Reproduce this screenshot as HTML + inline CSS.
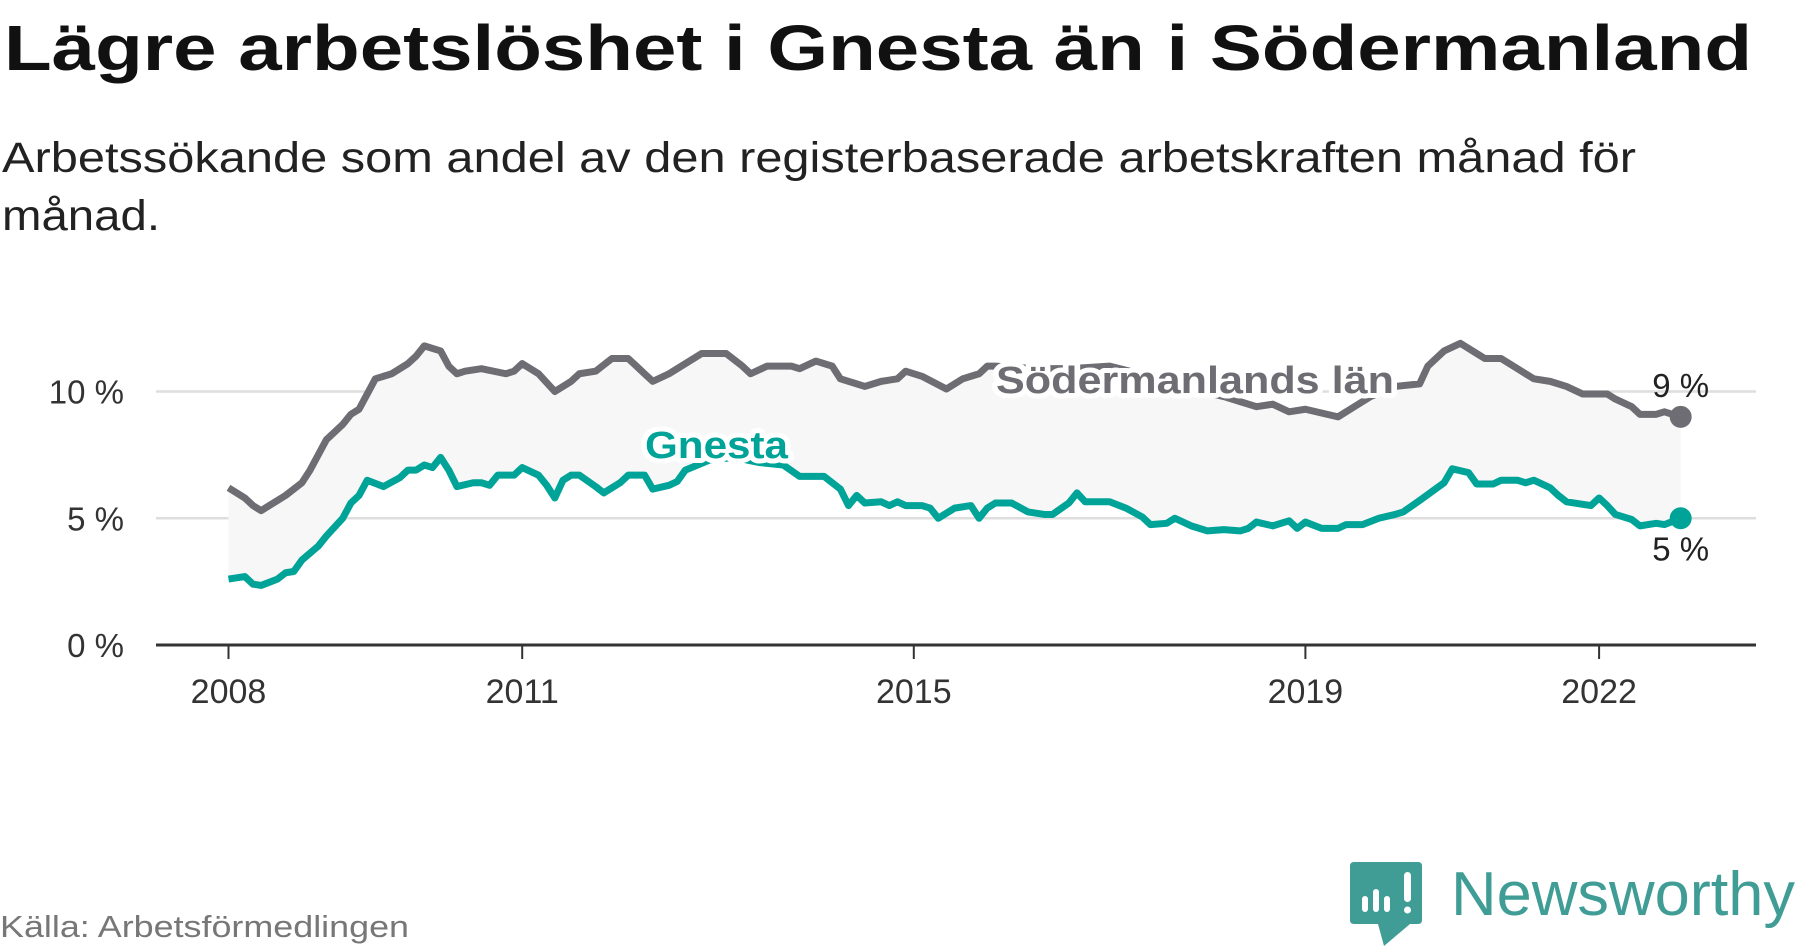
<!DOCTYPE html>
<html><head><meta charset="utf-8">
<style>
html,body{margin:0;padding:0;background:#fff;}
svg{display:block;font-family:"Liberation Sans",sans-serif;}
</style></head>
<body>
<svg id="chart" width="1800" height="948" viewBox="0 0 1800 948" xmlns="http://www.w3.org/2000/svg">
  <text x="4" y="70" font-size="64" font-weight="bold" fill="#111" textLength="1748" lengthAdjust="spacingAndGlyphs">Lägre arbetslöshet i Gnesta än i Södermanland</text>
  <text x="2" y="172" font-size="43" fill="#222" textLength="1634" lengthAdjust="spacingAndGlyphs">Arbetssökande som andel av den registerbaserade arbetskraften månad för</text>
  <text x="2" y="230" font-size="43" fill="#222" textLength="158" lengthAdjust="spacingAndGlyphs">månad.</text>
  <g id="plot"></g>
  <text x="0" y="937" font-size="31" fill="#777" textLength="409" lengthAdjust="spacingAndGlyphs">Källa: Arbetsförmedlingen</text>
  <g>
    <path d="M1354 862 H1418 Q1422 862 1422 866 V920 Q1422 924 1418 924 H1410 L1384 946 L1378 924 H1354 Q1350 924 1350 920 V866 Q1350 862 1354 862 Z" fill="#3f9d95"/>
    <rect x="1362" y="896" width="6" height="16" rx="3" fill="#fff"/>
    <rect x="1373" y="889" width="6" height="23" rx="3" fill="#fff"/>
    <rect x="1384" y="896" width="6" height="16" rx="3" fill="#fff"/>
    <rect x="1404" y="872" width="7" height="30" rx="3.5" fill="#fff"/>
    <circle cx="1407.5" cy="910" r="3.5" fill="#fff"/>
    <text x="1451" y="915" font-size="62" fill="#3f9d95" textLength="344" lengthAdjust="spacingAndGlyphs">Newsworthy</text>
  </g>
</svg>
<script>
const grayMonths = [0,1,2,3,4,6,7,9,10,11,12,14,15,16,17,18,20,22,23,24,26,27,28,29,31,34,35,36,38,40,42,43,45,47,49,51,52,54,56,58,61,63,64,66,69,70,72,74,75,77,78,80,82,83,85,88,90,92,93,94,99,103,108,113,118,122,124,126,128,130,132,136,138,140,143,146,147,149,151,153,154,156,158,160,162,164,166,168,169,170,172,173,175,176,178];
const grayValues = [6.2,6.0,5.8,5.5,5.3,5.7,5.9,6.4,6.9,7.5,8.1,8.7,9.1,9.3,9.9,10.5,10.7,11.1,11.4,11.8,11.6,11.0,10.7,10.8,10.9,10.7,10.8,11.1,10.7,10.0,10.4,10.7,10.8,11.3,11.3,10.7,10.4,10.7,11.1,11.5,11.5,11.0,10.7,11.0,11.0,10.9,11.2,11.0,10.5,10.3,10.2,10.4,10.5,10.8,10.6,10.1,10.5,10.7,11.0,11.0,10.9,10.9,11.0,10.6,10.1,9.8,9.6,9.4,9.5,9.2,9.3,9.0,9.4,9.8,10.2,10.3,11.0,11.6,11.9,11.5,11.3,11.3,10.9,10.5,10.4,10.2,9.9,9.9,9.9,9.7,9.4,9.1,9.1,9.2,9.0];
const tealMonths = [0,2,3,4,6,7,8,9,11,12,14,15,16,17,19,21,22,23,24,25,26,27,28,30,31,32,33,35,36,38,39,40,41,42,43,45,46,48,49,51,52,54,55,56,59,62,65,68,70,72,73,75,76,77,78,80,81,82,83,85,86,87,89,91,92,93,94,96,98,100,101,103,104,105,106,108,110,112,113,115,116,118,119,120,122,124,125,126,128,130,131,132,134,136,137,139,141,143,144,146,149,150,152,153,155,156,158,159,160,162,163,164,167,168,169,170,172,173,175,176,178];
const tealValues = [2.6,2.7,2.4,2.35,2.6,2.85,2.9,3.35,3.9,4.3,5.0,5.6,5.9,6.5,6.25,6.6,6.9,6.9,7.1,7.0,7.4,6.9,6.25,6.4,6.4,6.3,6.7,6.7,7.0,6.7,6.3,5.8,6.5,6.7,6.7,6.25,6.0,6.4,6.7,6.7,6.15,6.3,6.45,6.9,7.3,7.4,7.2,7.1,6.65,6.65,6.65,6.15,5.5,5.9,5.6,5.65,5.5,5.65,5.5,5.5,5.4,5.0,5.4,5.5,5.0,5.4,5.6,5.6,5.25,5.15,5.15,5.6,6.0,5.65,5.65,5.65,5.4,5.05,4.75,4.8,5.0,4.7,4.6,4.5,4.55,4.5,4.6,4.85,4.7,4.9,4.6,4.85,4.6,4.6,4.75,4.75,5.0,5.15,5.25,5.7,6.4,6.95,6.8,6.35,6.35,6.5,6.5,6.4,6.5,6.2,5.9,5.65,5.5,5.8,5.5,5.15,4.95,4.7,4.8,4.75,5.0];
const yTicks = [0,5,10];
const yTickLabels = ["0 %","5 %","10 %"];
const xTickYears = [2008,2011,2015,2019,2022];
const grayEndLabel = "9 %";
const tealEndLabel = "5 %";

const NS = "http://www.w3.org/2000/svg";
const plot = document.getElementById('plot');
const X0 = 228.5, PXM = 97.9/12, Y0 = 645, PXV = 25.35;
const xM = m => X0 + m * PXM;
const xY = y => X0 + (y - 2008) * 97.9;
const yV = v => Y0 - v * PXV;
function mk(tag, attrs, parent) {
  const e = document.createElementNS(NS, tag);
  for (const k in attrs) e.setAttribute(k, attrs[k]);
  (parent || plot).appendChild(e);
  return e;
}
yTicks.forEach((t, i) => {
  if (t > 0) {
    const g = mk('line', {x1: 156, x2: 1756, y1: yV(t), y2: yV(t), stroke: '#dedede', 'stroke-width': 2.5});
    
    
  }
  const lb = mk('text', {x: 124, y: yV(t) + 12, 'font-size': 33, fill: '#333', 'text-anchor': 'end'});
  lb.textContent = yTickLabels[i];
  
  
});
let d = 'M' + grayMonths.map((m, i) => xM(m) + ',' + yV(grayValues[i])).join('L');
for (let i = tealMonths.length - 1; i >= 0; i--) d += 'L' + xM(tealMonths[i]) + ',' + yV(tealValues[i]);
const band = mk('path', {d: d + 'Z', fill: '#f7f7f7'});


const ax = mk('line', {x1: 156, x2: 1756, y1: Y0, y2: Y0, stroke: '#333', 'stroke-width': 3});


xTickYears.forEach(yr => {
  const t = mk('line', {x1: xY(yr), x2: xY(yr), y1: Y0, y2: Y0 + 14, stroke: '#333', 'stroke-width': 2});
  
  
  const l = mk('text', {x: xY(yr), y: 703, 'font-size': 34, fill: '#333', 'text-anchor': 'middle'});
  l.textContent = yr;
  
  
});
function line(months, vals, color, name) {
  const p = mk('path', {d: 'M' + months.map((m, i) => xM(m) + ',' + yV(vals[i])).join('L'), fill: 'none', stroke: color, 'stroke-width': 7, 'stroke-linejoin': 'round'});
  
  
  const n = months.length - 1;
  const c = mk('circle', {cx: xM(months[n]), cy: yV(vals[n]), r: 11, fill: color});
  
  
}
line(grayMonths, grayValues, '#6e6d73', 'sodermanland-line');
line(tealMonths, tealValues, '#00a398', 'gnesta-line');
const gl = mk('text', {x: xM(178), y: yV(grayValues[grayValues.length - 1]) - 20, 'font-size': 33, fill: '#222', 'text-anchor': 'middle'});
gl.textContent = grayEndLabel;


const tl = mk('text', {x: xM(178), y: yV(tealValues[tealValues.length - 1]) + 42, 'font-size': 33, fill: '#222', 'text-anchor': 'middle'});
tl.textContent = tealEndLabel;


function slabel(txt, x, y, color, w, name) {
  const t = mk('text', {x: x, y: y, 'font-size': 38, 'font-weight': 'bold', fill: color, stroke: '#fff', 'stroke-width': 10, 'stroke-linejoin': 'round', 'paint-order': 'stroke', textLength: w, lengthAdjust: 'spacingAndGlyphs'});
  t.textContent = txt;
  
  
}
slabel('Södermanlands län', 996, 393, '#6e6d73', 398, 'sodermanland-label');
slabel('Gnesta', 645, 458, '#00a398', 143, 'gnesta-label');
</script>
</body></html>
